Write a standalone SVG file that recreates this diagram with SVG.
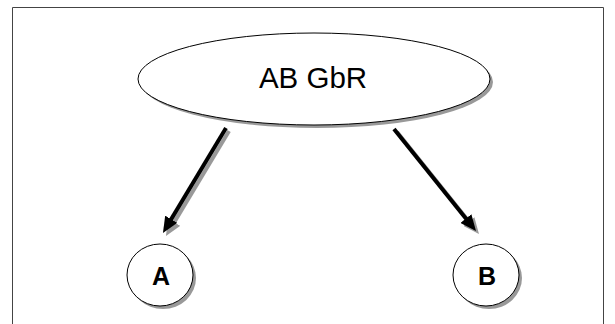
<svg xmlns="http://www.w3.org/2000/svg" width="615" height="324" viewBox="0 0 615 324">
<style>
.shape{fill:#fff;stroke:#000;stroke-width:1}
.shadow{fill:#999;stroke:none}
.lbl{font-family:"Liberation Sans",Arial,sans-serif;text-anchor:middle;fill:#000}
.conn{stroke:#000;stroke-width:4;fill:none}
.connsh{stroke:#999;stroke-width:4;fill:none}
</style>
<defs>
<marker id="ah" viewBox="0 0 16 14" refX="6" refY="7" markerWidth="16" markerHeight="14" markerUnits="userSpaceOnUse" orient="auto">
<path d="M0,0 L16,7 L0,14 z" fill="#000"/>
</marker>
<marker id="ahs" viewBox="0 0 16 14" refX="6" refY="7" markerWidth="16" markerHeight="14" markerUnits="userSpaceOnUse" orient="auto">
<path d="M0,0 L16,7 L0,14 z" fill="#999"/>
</marker>
</defs>
<rect width="615" height="324" fill="#fff"/>
<path d="M12.5,324 V7.5 H603.5 V324" fill="none" stroke="#444" stroke-width="1"/>
<g id="connectors">
<g transform="translate(3,3)">
<line class="connsh" x1="226" y1="128" x2="168.1" y2="224.4" marker-end="url(#ahs)"/>
<line class="connsh" x1="394" y1="129" x2="469.7" y2="223.2" marker-end="url(#ahs)"/>
</g>
<line class="conn" x1="226" y1="128" x2="168.1" y2="224.4" marker-end="url(#ah)"/>
<line class="conn" x1="394" y1="129" x2="469.7" y2="223.2" marker-end="url(#ah)"/>
</g>
<g id="node-gbr">
<ellipse class="shadow" cx="317" cy="82" rx="176" ry="46"/>
<ellipse class="shape" cx="314" cy="79" rx="176" ry="46"/>
<text class="lbl" x="313" y="88" font-size="29.5">AB GbR</text>
</g>
<g id="node-a">
<ellipse class="shadow" cx="163" cy="278" rx="33" ry="31"/>
<ellipse class="shape" cx="160" cy="275" rx="33" ry="31"/>
<text class="lbl" x="161" y="285" font-size="25" font-weight="bold">A</text>
</g>
<g id="node-b">
<ellipse class="shadow" cx="489" cy="278" rx="33" ry="31"/>
<ellipse class="shape" cx="486" cy="275" rx="33" ry="31"/>
<text class="lbl" x="487" y="285" font-size="25" font-weight="bold">B</text>
</g>
</svg>
